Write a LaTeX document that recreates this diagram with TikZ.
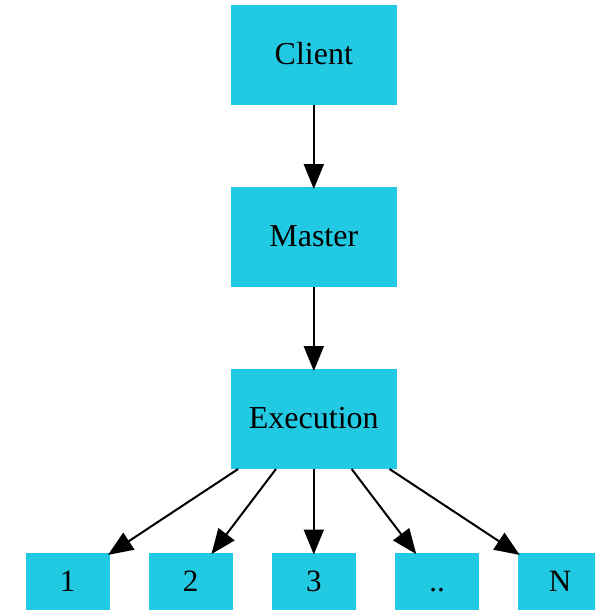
\documentclass[tikz,border=0pt]{standalone}
\usepackage{fontspec}
\setmainfont{Liberation Serif}
\usetikzlibrary{arrows.meta}
\definecolor{boxfill}{RGB}{34,201,226}
\begin{document}
\begin{tikzpicture}[x=1pt,y=-1pt,
  bigbox/.style={rectangle,fill=boxfill,minimum width=166pt,minimum height=100pt,inner sep=0pt,outer sep=0pt,text height=19.6pt,text depth=0pt,font=\fontsize{32}{36}\selectfont},
  smallbox/.style={rectangle,fill=boxfill,minimum width=84pt,minimum height=58pt,inner sep=0pt,outer sep=0pt,text height=19.6pt,text depth=0pt,font=\fontsize{31}{36}\selectfont},
  edge/.style={draw=black,line width=2pt,shorten >=-2pt,-{Triangle[length=25pt,width=20pt]}}]
\useasboundingbox (0,0) rectangle (595,610);
\clip (0,0) rectangle (595,610);
\node[bigbox] (client) at (313.8,54.6) {Client};
\node[bigbox] (master) at (313.8,237) {Master};
\node[bigbox] (exec) at (313.8,419) {Execution};
\node[smallbox] (n1) at (67.7,581.5) {1};
\node[smallbox] (n2) at (190.7,581.5) {2};
\node[smallbox] (n3) at (313.8,581.5) {3};
\node[smallbox] (n4) at (437,581.5) {..};
\node[smallbox] (n5) at (560,581.5) {N};
\draw[edge] (client) -- (master);
\draw[edge] (master) -- (exec);
\draw[edge] (exec) -- (n1);
\draw[edge] (exec) -- (n2);
\draw[edge] (exec) -- (n3);
\draw[edge] (exec) -- (n4);
\draw[edge] (exec) -- (n5);
\end{tikzpicture}
\end{document}
